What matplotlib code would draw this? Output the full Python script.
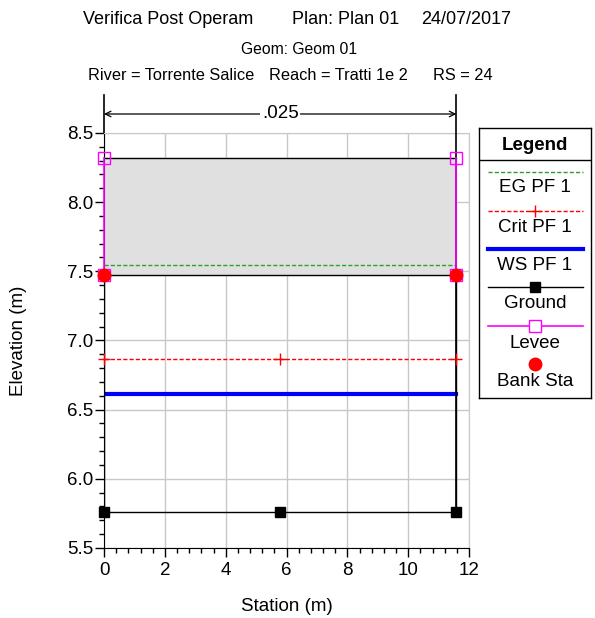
import numpy as np
import matplotlib.pyplot as plt
from matplotlib.ticker import MultipleLocator, FormatStrFormatter
import matplotlib.transforms as mtransforms

plt.rcParams['font.family'] = ['Liberation Sans', 'DejaVu Sans']

ground_sta = [0.0, 0.0, 5.79, 11.58, 11.58]
ground_elev = [7.47, 5.76, 5.76, 5.76, 7.47]
ground_pts_sta = [0.0, 5.79, 11.58]
ground_pts_elev = [5.76, 5.76, 5.76]
lid_sta = [0.0, 11.58]
lid_low = [7.47, 7.47]
lid_high = [8.32, 8.32]
levee_left_sta = [0.0, 0.0]
levee_right_sta = [11.58, 11.58]
levee_elev = [7.47, 8.32]
bank_sta = [0.0, 11.58]
bank_elev = [7.47, 7.47]
eg_elev = 7.545
crit_elev = 6.866
crit_sta = [0.0, 5.79, 11.58]
ws_elev = 6.61
n_value = '.025'

FS = 13.5

fig = plt.figure(figsize=(5.95, 6.18), dpi=100)
ax = fig.add_axes([0.1748, 0.1133, 0.6135, 0.6715])

ax.fill_between(lid_sta, lid_low, lid_high, color='#e0e0e0', zorder=1)
ax.plot(lid_sta, lid_high, color='black', lw=1.0, zorder=2)
ax.plot(lid_sta, lid_low, color='black', lw=1.0, zorder=2)

ax.plot([lid_sta[0], lid_sta[1]], [eg_elev, eg_elev], color='#2e9e2e', lw=1.0, ls=(0, (3, 1.5)), zorder=3)
ax.plot([lid_sta[0], lid_sta[1]], [ws_elev, ws_elev], color='#0000ff', lw=3, zorder=3)

ax.plot(ground_sta, ground_elev, color='black', lw=1.0, zorder=4)
ax.plot([lid_sta[1], lid_sta[1]], [5.76, 8.5], color='black', lw=1.2, zorder=4)
ax.plot(ground_pts_sta, ground_pts_elev, ls='none', marker='s', color='black', ms=6.5, zorder=5,
        clip_on=False)
# crit line above the walls so its end markers show
ax.plot(crit_sta, [crit_elev] * len(crit_sta), color='red', lw=1.0, ls=(0, (3, 1.5)),
        marker='+', ms=8, mew=1.0, zorder=5, clip_on=False)

for s in (levee_left_sta, levee_right_sta):
    ax.plot(s, levee_elev, color='#ff00ff', lw=1.2, marker='s', ms=8, mfc='none', mew=1.0,
            zorder=5, clip_on=False)
ax.plot(bank_sta, bank_elev, ls='none', marker='o', color='red', ms=10, mew=0, zorder=6, clip_on=False)

ax.set_xlim(0, 12)
ax.set_ylim(5.5, 8.5)
ax.xaxis.set_major_locator(MultipleLocator(2))
ax.xaxis.set_minor_locator(MultipleLocator(0.4))
ax.yaxis.set_major_locator(MultipleLocator(0.5))
ax.yaxis.set_minor_locator(MultipleLocator(0.1))
ax.yaxis.set_major_formatter(FormatStrFormatter('%.1f'))
ax.grid(True, which='major', color='#c8c8c8', lw=1.0, zorder=0)
ax.set_axisbelow(True)
ax.tick_params(which='major', length=6.5, width=1, labelsize=FS, direction='out')
ax.tick_params(which='minor', length=3.6, width=1, direction='out')
ax.tick_params(axis='y', which='major', pad=1)
ax.tick_params(axis='x', which='major', pad=3.5)
ax.spines['top'].set_color('#c8c8c8')
ax.spines['right'].set_color('#c8c8c8')
ax.set_xlabel('Station (m)', fontsize=FS)
ax.set_ylabel('Elevation (m)', fontsize=FS)
ax.xaxis.set_label_coords(0.5, -0.142)
ax.yaxis.set_label_coords(-0.2356, 0.5)
ax.xaxis.label.set_va('center')
ax.yaxis.label.set_va('center')

# n-value bracket above the plot
trans = mtransforms.blended_transform_factory(ax.transData, ax.transAxes)
y_arrow = 1 + 19 / 415
y_top = 1 + 38 / 415
for s in lid_sta:
    ax.plot([s, s], [1.0, y_top], color='black', lw=1.2, transform=trans, clip_on=False)
ax.annotate('', xy=(lid_sta[0], y_arrow), xytext=(lid_sta[1], y_arrow), xycoords=trans,
            textcoords=trans, arrowprops=dict(arrowstyle='<->', color='black', lw=0.9,
                                              shrinkA=0, shrinkB=0))
ax.text((lid_sta[0] + lid_sta[1]) / 2, y_arrow, n_value, transform=trans, ha='center',
        va='center', fontsize=FS, bbox=dict(facecolor='white', edgecolor='none', pad=1))

# titles
fig.text(83 / 595, 1 - 20 / 618, 'Verifica Post Operam', fontsize=13, va='center')
fig.text(292 / 595, 1 - 20 / 618, 'Plan: Plan 01', fontsize=13, va='center')
fig.text(421 / 595, 1 - 20 / 618, '24/07/2017', fontsize=13, va='center')
fig.text(299 / 595, 1 - 49 / 618, 'Geom: Geom 01', fontsize=11.3, va='center', ha='center')
fig.text(88 / 595, 1 - 76 / 618, 'River = Torrente Salice', fontsize=11.8, va='center')
fig.text(269 / 595, 1 - 76 / 618, 'Reach = Tratti 1e 2', fontsize=11.8, va='center')
fig.text(433 / 595, 1 - 76 / 618, 'RS = 24', fontsize=11.8, va='center')

# legend box
lg = fig.add_axes([479 / 595, 1 - 398 / 618, 112 / 595, 270 / 618])
lg.set_xlim(479, 591)
lg.set_ylim(398, 128)
lg.set_xticks([])
lg.set_yticks([])
for sp in lg.spines.values():
    sp.set_linewidth(1.0)
lg.axhline(160, color='black', lw=1.0)
lg.text(535, 146, 'Legend', ha='center', va='center', fontsize=FS, fontweight='bold')
x0, x1, xm = 488, 583, 535
lg.plot([x0, x1], [172, 172], color='#2e9e2e', lw=1.0, ls=(0, (3, 1.5)))
lg.text(xm, 188, 'EG PF 1', ha='center', va='center', fontsize=FS)
lg.plot([x0, x1], [211, 211], color='red', lw=1.0, ls=(0, (3, 1.5)))
lg.plot([xm], [211], marker='+', color='red', ms=8, mew=1.0)
lg.text(xm, 228, 'Crit PF 1', ha='center', va='center', fontsize=FS)
lg.plot([x0, x1], [249, 249], color='#0000ff', lw=3)
lg.text(xm, 266, 'WS PF 1', ha='center', va='center', fontsize=FS)
lg.plot([x0, x1], [287, 287], color='black', lw=1.0)
lg.plot([xm], [287], marker='s', color='black', ms=6.5)
lg.text(xm, 304, 'Ground', ha='center', va='center', fontsize=FS)
lg.plot([x0, x1], [326, 326], color='#ff00ff', lw=1.2)
lg.plot([xm], [326], marker='s', color='#ff00ff', ms=9, mfc='white', mew=1.0)
lg.text(xm, 343, 'Levee', ha='center', va='center', fontsize=FS)
lg.plot([xm], [364], marker='o', color='red', ms=10, mew=0)
lg.text(xm, 381, 'Bank Sta', ha='center', va='center', fontsize=FS)

fig.savefig('out.png', dpi=100)
